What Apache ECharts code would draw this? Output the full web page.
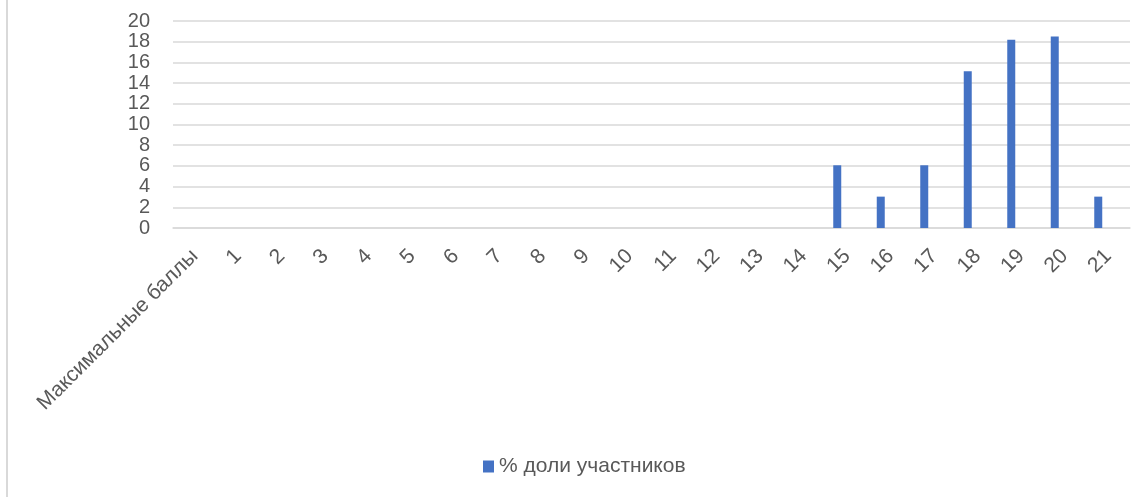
<!DOCTYPE html>
<html>
<head>
<meta charset="utf-8">
<script src="https://cdn.jsdelivr.net/npm/echarts@6/dist/echarts.min.js"></script>
<style>
html,body{margin:0;padding:0;background:#fff;}
#wrap{position:relative;width:1147px;height:497px;}
#edge{position:absolute;left:6px;top:0;width:2px;height:497px;background:#d9d9d9;}
#chart{position:absolute;left:0;top:0;width:1147px;height:497px;}
</style>
</head>
<body>
<div id="wrap"><div id="edge"></div><div id="chart"></div></div>
<script>
const categories = ['Максимальные баллы','1','2','3','4','5','6','7','8','9','10','11','12','13','14','15','16','17','18','19','20','21'];
const shareValues = [0,0,0,0,0,0,0,0,0,0,0,0,0,0,0,6.06,3.03,6.06,15.15,18.18,18.5,3.03];
const seriesName = '% доли участников';
const yTicks = {min: 0, max: 20, interval: 2};

const chart = echarts.init(document.getElementById('chart'));
const font = '"Liberation Sans", "Noto Sans", sans-serif';
chart.setOption({
  animation: false,
  textStyle: {fontFamily: font},
  grid: {left: 173, right: 17, top: 21, bottom: 269, containLabel: false},
  legend: {
    data: [seriesName],
    bottom: 20,
    left: 483,
    icon: 'rect',
    itemWidth: 11,
    itemHeight: 12,
    itemGap: 6,
    padding: 0,
    textStyle: {fontSize: 21, color: '#595959', fontFamily: font}
  },
  xAxis: {
    type: 'category',
    data: categories,
    axisLine: {show: true, lineStyle: {color: '#d9d9d9', width: 1.5}},
    axisTick: {show: false},
    axisLabel: {
      interval: 0,
      rotate: 45,
      margin: 25,
      fontSize: 21,
      color: '#595959',
      fontFamily: font
    }
  },
  yAxis: {
    type: 'value',
    min: yTicks.min,
    max: yTicks.max,
    interval: yTicks.interval,
    axisLine: {show: false},
    axisTick: {show: false},
    splitLine: {lineStyle: {color: '#d9d9d9', width: 1.5}},
    axisLabel: {fontSize: 20, color: '#595959', margin: 23, fontFamily: font, showMinLabel: true, showMaxLabel: true, hideOverlap: false}
  },
  series: [
    {
      name: seriesName,
      type: 'bar',
      data: shareValues,
      barWidth: 8,
      barGap: '150%',
      itemStyle: {color: '#4472c4'}
    },
    {
      name: 'hidden',
      type: 'bar',
      data: categories.map(() => '-'),
      barWidth: 8,
      itemStyle: {color: '#ed7d31'}
    }
  ]
});
</script>
</body>
</html>
